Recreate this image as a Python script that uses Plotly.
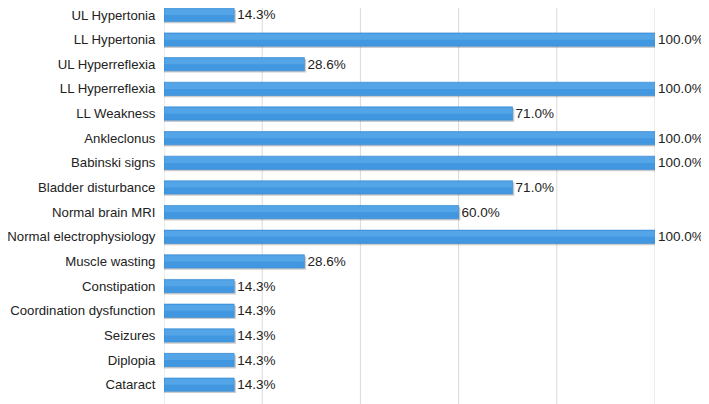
import plotly.graph_objects as go

categories = ["UL Hypertonia", "LL Hypertonia", "UL Hyperreflexia", "LL Hyperreflexia",
              "LL Weakness", "Ankleclonus", "Babinski signs", "Bladder disturbance",
              "Normal brain MRI", "Normal electrophysiology", "Muscle wasting",
              "Constipation", "Coordination dysfunction", "Seizures", "Diplopia", "Cataract"]
values = [14.3, 100.0, 28.6, 100.0, 71.0, 100.0, 100.0, 71.0, 60.0, 100.0, 28.6,
          14.3, 14.3, 14.3, 14.3, 14.3]
x_gridlines = [0, 20, 40, 60, 80, 100]

FONT = "Liberation Sans, Arial, sans-serif"
BW = 0.54

fig = go.Figure()
# soft shadow under each bar
fig.add_trace(go.Bar(
    y=categories, x=[v + 0.35 for v in values], orientation="h",
    width=BW, offset=-BW / 2 + 0.07,
    marker=dict(color="rgba(110,110,110,0.35)", line=dict(width=0)),
    hoverinfo="skip",
))
fig.add_trace(go.Bar(
    y=categories, x=values, orientation="h",
    width=BW, offset=-BW / 2,
    marker=dict(color="#4198E0", line=dict(color="#3688D2", width=0.6)),
    text=[f"{v:.1f}%" for v in values], textposition="outside",
    textfont=dict(family=FONT, size=13.5, color="#222222"),
    constraintext="none", cliponaxis=False,
))
# lighter upper half to suggest the gradient
fig.add_trace(go.Bar(
    y=categories, x=[v - 0.15 for v in values], orientation="h", base=0.1,
    width=BW * 0.45, offset=-BW / 2 + 0.03,
    marker=dict(color="rgba(120,190,245,0.35)", line=dict(width=0)),
    hoverinfo="skip",
))
shapes = [dict(type="line", xref="x", yref="paper", x0=g, x1=g, y0=-0.03, y1=1.0,
               line=dict(color="#D9D9D9", width=1), layer="below") for g in x_gridlines]
fig.update_layout(
    width=701, height=396,
    margin=dict(l=156, r=54, t=0, b=7, autoexpand=False),
    plot_bgcolor="white", paper_bgcolor="white",
    barmode="overlay", showlegend=False,
    font=dict(family=FONT, size=13.2, color="#222222"),
    shapes=shapes,
)
fig.update_xaxes(range=[0, 100], showticklabels=False, showgrid=False, zeroline=False,
                 showline=False, automargin=False)
fig.update_yaxes(range=[15.5, -0.28], showline=False,
                 ticks="outside", ticklen=5, tickcolor="rgba(0,0,0,0)", automargin=False,
                 tickfont=dict(family=FONT, size=13.2, color="#222222"))
fig.write_html("out.html")
